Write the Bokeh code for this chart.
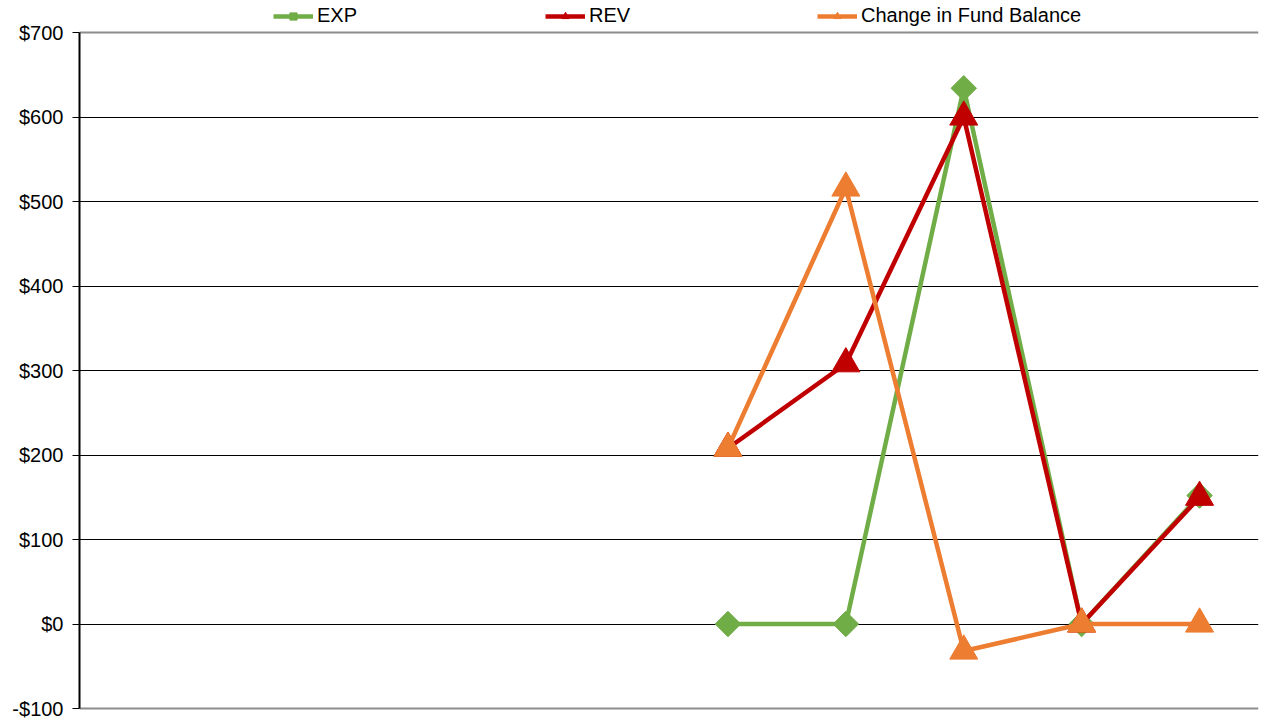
import math
from bokeh.plotting import figure
from bokeh.models import (ColumnDataSource, Legend, LegendItem, FixedTicker,
                          CustomJSTickFormatter, Range1d, Grid)
from bokeh.embed import file_html
from bokeh.resources import INLINE

nan = float("nan")

# Data (10 category slots; only the last five carry values)
categories = [1, 2, 3, 4, 5, 6, 7, 8, 9, 10]
exp_values = [nan, nan, nan, nan, nan, 0, 0, 634, 0, 152]
rev_values = [nan, nan, nan, nan, nan, 208, 308, 600, 0, 150]
chg_values = [nan, nan, nan, nan, nan, 208, 516, -32, 0, 0]
series_names = ["EXP", "REV", "Change in Fund Balance"]
y_ticks = [-100, 0, 100, 200, 300, 400, 500, 600, 700]

colors = ["#70AD47", "#C00000", "#ED7D31"]
FONT = "Liberation Sans"

# layout: plot area 676 px tall for the -100..700 span, 32 px headroom for the legend
# and 2 px below so the bottom edge line is visible
PLOT_H = 676
TOP_PAD = 32
BOT_PAD = 2
y_min, y_max = y_ticks[0], y_ticks[-1]
per_px = (y_max - y_min) / PLOT_H
y_top = y_max + TOP_PAD * per_px
y_bot = y_min - BOT_PAD * per_px

p = figure(width=1259, height=721, output_backend="svg", toolbar_location=None,
           x_range=Range1d(0.5, 10.5), y_range=Range1d(y_bot, y_top),
           min_border_left=79, min_border_right=1, min_border_top=0,
           min_border_bottom=11)

p.background_fill_color = "white"
p.border_fill_color = "white"
p.outline_line_color = None

p.xaxis.visible = False
p.xgrid.visible = False

p.yaxis.ticker = FixedTicker(ticks=y_ticks)
p.yaxis.bounds = (y_min, y_max)
p.yaxis.formatter = CustomJSTickFormatter(code="return tick < 0 ? '-$' + (-tick) : '$' + tick;")
p.yaxis.axis_line_color = "black"
p.yaxis.axis_line_width = 2
p.yaxis.major_tick_line_color = "black"
p.yaxis.major_tick_line_width = 1
p.yaxis.major_tick_out = 7
p.yaxis.major_tick_in = 0
p.yaxis.minor_tick_line_color = None
p.yaxis.major_label_standoff = 9
p.yaxis.major_label_text_font = FONT
p.yaxis.major_label_text_font_size = "20px"
p.yaxis.major_label_text_color = "black"

p.ygrid.ticker = FixedTicker(ticks=y_ticks[1:-1])
p.ygrid.grid_line_color = "black"
p.ygrid.grid_line_width = 1

edge_grid = Grid(dimension=1, ticker=FixedTicker(ticks=[y_min, y_max]),
                 grid_line_color="#8C8C8C", grid_line_width=2)
p.add_layout(edge_grid)

src = ColumnDataSource(dict(x=categories, exp=exp_values, rev=rev_values, chg=chg_values))

items = []
# EXP
l1 = p.line("x", "exp", source=src, line_color=colors[0], line_width=4.5)
m1 = p.scatter("x", "exp", source=src, marker="square", angle=math.pi / 4, size=18,
               fill_color=colors[0], line_color=colors[0])
items.append(LegendItem(label=series_names[0], renderers=[l1, m1]))
# REV
l2 = p.line("x", "rev", source=src, line_color=colors[1], line_width=4.5)
m2 = p.scatter("x", "rev", source=src, marker="triangle", size=28,
               fill_color=colors[1], line_color=colors[1])
items.append(LegendItem(label=series_names[1], renderers=[l2, m2]))
# Change in Fund Balance
l3 = p.line("x", "chg", source=src, line_color=colors[2], line_width=4.5)
m3 = p.scatter("x", "chg", source=src, marker="triangle", size=28,
               fill_color=colors[2], line_color=colors[2])
items.append(LegendItem(label=series_names[2], renderers=[l3, m3]))

legend = Legend(items=items, orientation="horizontal", location=(194, 683),
                glyph_width=40, glyph_height=18, label_standoff=4, label_width=224,
                spacing=4, padding=0, margin=0, border_line_color=None,
                background_fill_alpha=0, label_text_font=FONT,
                label_text_font_size="20px", label_text_color="black",
                label_height=18)
p.add_layout(legend)

open("out.html", "w").write(file_html(p, INLINE))
